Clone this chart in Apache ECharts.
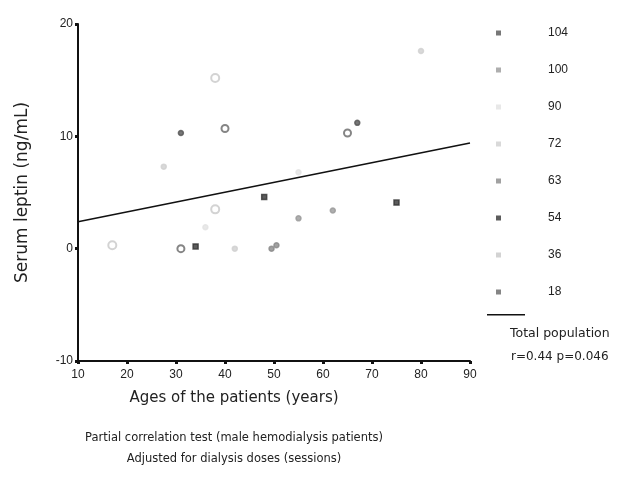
<!DOCTYPE html>
<html><head><meta charset="utf-8">
<script src="https://cdn.jsdelivr.net/npm/echarts@6/dist/echarts.min.js"></script>
<style>html,body{margin:0;padding:0;background:#fff}#c{width:624px;height:492px}</style>
</head><body><div id="c"></div>
<script>
// Dialysis session groups (legend order)
const groups = ['104','100','90','72','63','54','36','18'];
const ages_104 = [31, 67];
const leptin_104 = [10.3, 11.2];
const ages_100 = [55, 62];
const leptin_100 = [2.7, 3.4];
const ages_90 = [36, 55];
const leptin_90 = [1.9, 6.8];
const ages_72 = [27.5, 42, 80];
const leptin_72 = [7.3, 0.0, 17.6];
const ages_63 = [49.5, 50.5];
const leptin_63 = [0.0, 0.3];
const ages_54 = [34, 48, 75];
const leptin_54 = [0.2, 4.6, 4.1];
const ages_36 = [17, 38, 38];
const leptin_36 = [0.3, 15.2, 3.5];
const ages_18 = [31, 40, 65];
const leptin_18 = [0.0, 10.7, 10.3];
// Regression line (total population)
const lineAges = [10, 90];
const lineLeptin = [2.4, 9.4];

const groupData = {
  '104': [ages_104, leptin_104], '100': [ages_100, leptin_100], '90': [ages_90, leptin_90],
  '72': [ages_72, leptin_72], '63': [ages_63, leptin_63], '54': [ages_54, leptin_54],
  '36': [ages_36, leptin_36], '18': [ages_18, leptin_18]
};
const styles = {
  '104': {c:'#555', sym:'circle', s:5},
  '100': {c:'#9a9a9a', sym:'circle', s:5},
  '90':  {c:'#e2e2e2', sym:'circle', s:5},
  '72':  {c:'#d0d0d0', sym:'circle', s:5},
  '63':  {c:'#8a8a8a', sym:'circle', s:5},
  '54':  {c:'#333', sym:'rect', s:5},
  '36':  {c:'#c8c8c8', sym:'emptyCircle', s:8},
  '18':  {c:'#666', sym:'emptyCircle', s:7}
};
const zip = (a,b) => a.map((v,i)=>[v,b[i]]);
const series = groups.map(g => ({
  name: g, type: 'scatter',
  data: zip(groupData[g][0], groupData[g][1]),
  symbol: styles[g].sym, symbolSize: styles[g].s,
  itemStyle: {color: styles[g].c, borderColor: styles[g].c, borderWidth: 1.5}
}));
series.push({
  name: 'Total', type: 'line', data: zip(lineAges, lineLeptin),
  symbol: 'none', lineStyle: {color: '#111', width: 1.6}, z: 1
});

const chart = echarts.init(document.getElementById('c'), null, {renderer: 'canvas'});
const font = 'Liberation Sans, Arial, sans-serif';
const wfont = 'DejaVu Sans, sans-serif';
chart.setOption({
  animation: false,
  backgroundColor: '#fff',
  grid: {left: 78, right: 154, top: 24, bottom: 131, containLabel: false},
  xAxis: {
    type: 'value', min: 10, max: 90, interval: 10,
    name: 'Ages of the patients (years)', nameLocation: 'middle', nameGap: 30,
    nameTextStyle: {fontFamily: wfont, fontSize: 15, color: '#222', padding: [0, 80, 0, 0]},
    axisLine: {onZero: false, lineStyle: {color: '#111', width: 2}},
    axisTick: {inside: false, length: 3, lineStyle: {color: '#111', width: 3}},
    axisLabel: {fontFamily: font, fontSize: 12, color: '#222', margin: 8},
    splitLine: {show: false}
  },
  yAxis: {
    type: 'value', min: -10, max: 20, interval: 10,
    name: 'Serum leptin (ng/mL)', nameLocation: 'middle', nameGap: 47,
    nameTextStyle: {fontFamily: wfont, fontSize: 17, color: '#222'},
    axisLine: {onZero: false, lineStyle: {color: '#111', width: 2}},
    axisTick: {inside: false, length: 3, lineStyle: {color: '#111', width: 3}},
    axisLabel: {fontFamily: font, fontSize: 12, color: '#222', margin: 5},
    splitLine: {show: false}
  },
  legend: [{
    orient: 'vertical', left: 491, top: 22, itemGap: 25,
    itemWidth: 5, itemHeight: 5,
    data: groups.map(g => ({name: g, icon: 'rect', itemStyle: {color: styles[g].c, borderWidth: 0}})),
    textStyle: {fontFamily: font, fontSize: 12, color: '#222', padding: [0, 0, 0, 42]},
    selectedMode: false
  }, {
    orient: 'vertical', left: 482, top: 309, itemWidth: 38, itemHeight: 1.5,
    data: [{name: 'Total', icon: 'rect', itemStyle: {color: '#111'}}],
    formatter: () => '', selectedMode: false
  }],
  title: [
    {text: 'Total population', left: 505, top: 322, textAlign: 'left',
     textStyle: {fontFamily: wfont, fontSize: 12.5, fontWeight: 'normal', color: '#222'}},
    {text: 'r=0.44 p=0.046', left: 506, top: 346,
     textStyle: {fontFamily: wfont, fontSize: 12, fontWeight: 'normal', color: '#222'}},
    {text: 'Partial correlation test (male hemodialysis patients)', left: 229, top: 427, textAlign: 'center',
     textStyle: {fontFamily: wfont, fontSize: 11.5, fontWeight: 'normal', color: '#222'}},
    {text: 'Adjusted for dialysis doses (sessions)', left: 229, top: 448, textAlign: 'center',
     textStyle: {fontFamily: wfont, fontSize: 11.5, fontWeight: 'normal', color: '#222'}}
  ],
  series: series
});
</script></body></html>
